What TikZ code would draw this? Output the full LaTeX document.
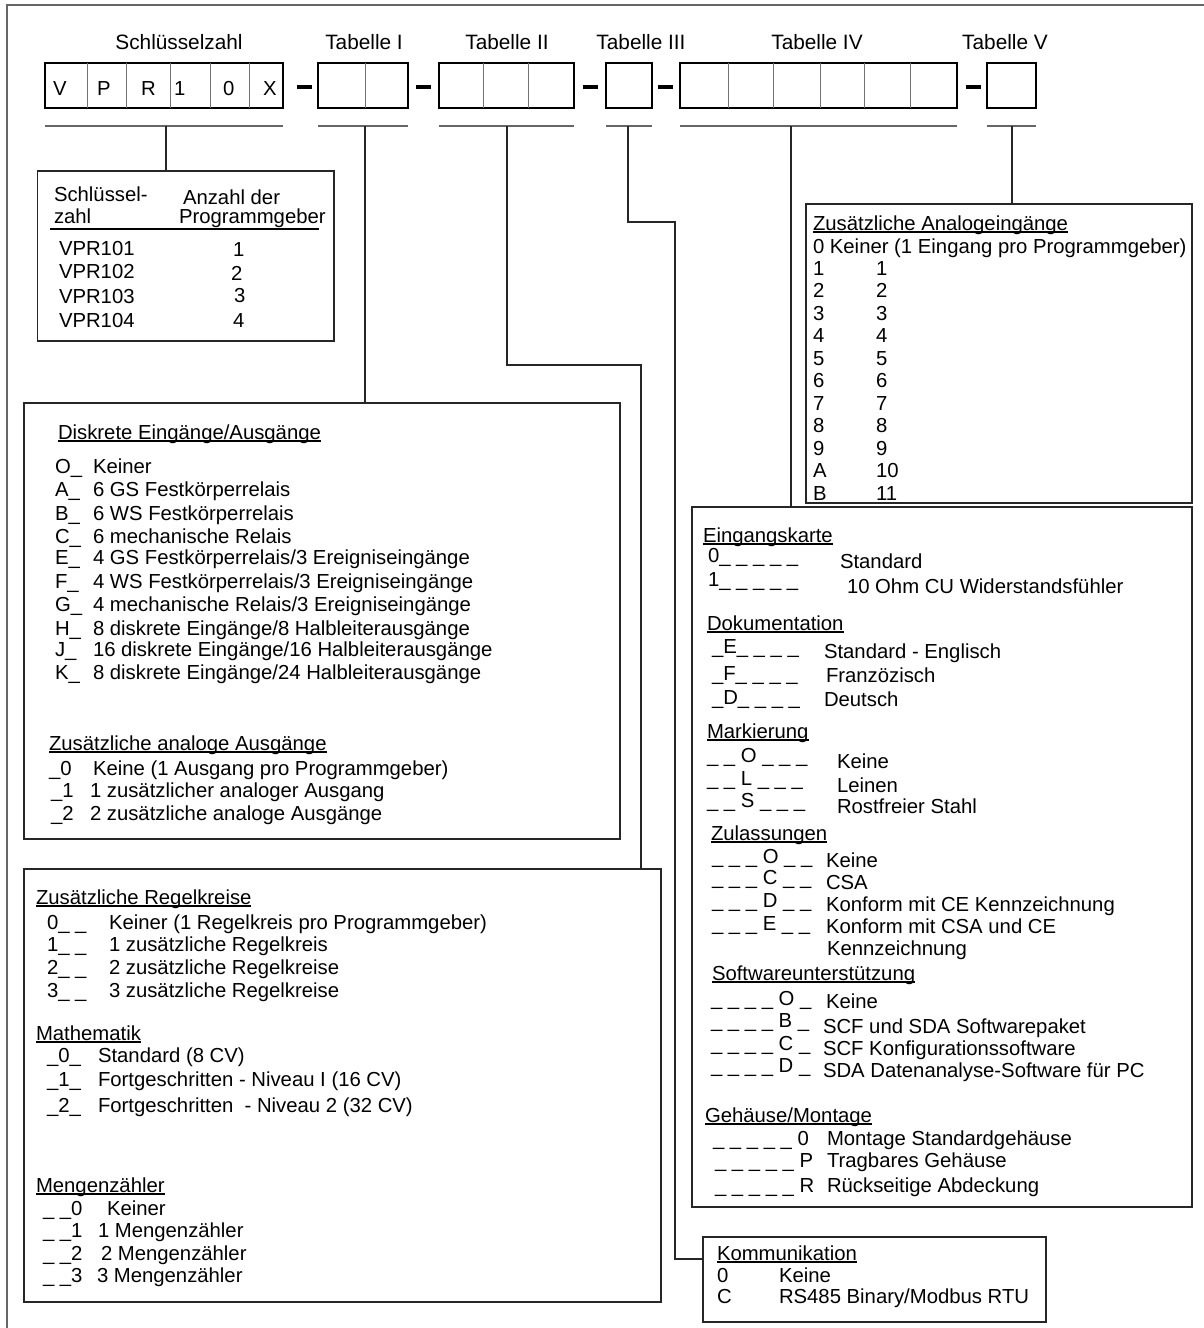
\documentclass[tikz,border=0pt]{standalone}
\usepackage{fontspec}
\setmainfont{Liberation Sans}
\newcommand\hul[1]{\setbox0\hbox{#1}\rlap{\rule[-2.6pt]{\wd0}{1.4pt}}\box0}
\begin{document}
\begin{tikzpicture}[x=1pt,y=-1pt]
\tikzset{
 frame/.style={draw=black!60, line width=1.5pt},
 panel/.style={draw=black!85, line width=1.5pt, inner sep=0pt, outer sep=0pt, anchor=north west},
 codebox/.style={draw=black, line width=1.7pt, inner sep=0pt, outer sep=0pt, anchor=north west, minimum height=45pt},
 divider/.style={draw=black!55, line width=1pt},
 uline/.style={draw=black!60, line width=1.3pt},
 conn/.style={draw=black!85, line width=1.2pt},
 dashbar/.style={fill=black, inner sep=0pt, outer sep=0pt, minimum width=15pt, minimum height=4pt},
 txt/.style={anchor=base west, inner sep=0pt, outer sep=0pt, font=\fontsize{20.3}{24}\selectfont},
 head/.style={anchor=base, inner sep=0pt, outer sep=0pt, font=\fontsize{20.8}{24}\selectfont},
}
\useasboundingbox (0,0) rectangle (1203,1328);
% outer frame
\draw[frame] (7,1332) -- (7,5) -- (1210,5);

% header labels
\node[head] (hK) at (179,49) {Schlüsselzahl};
\node[head] (hI) at (364,49) {Tabelle I};
\node[head] (hII) at (507,49) {Tabelle II};
\node[head] (hIII) at (641,49) {Tabelle III};
\node[head] (hIV) at (817,49) {Tabelle IV};
\node[head] (hV) at (1005,49) {Tabelle V};

% code boxes
\node[codebox, minimum width=238pt] (keyb) at (45,63) {};
\foreach \dx in {42,81,125,165,204} \draw[divider] ([xshift=\dx pt]keyb.north west) -- ([xshift=\dx pt]keyb.south west);
\node[codebox, minimum width=90pt] (tI) at (318,63) {};
\draw[divider] ([xshift=47pt]tI.north west) -- ([xshift=47pt]tI.south west);
\node[codebox, minimum width=135pt] (tII) at (439,63) {};
\foreach \dx in {44,89} \draw[divider] ([xshift=\dx pt]tII.north west) -- ([xshift=\dx pt]tII.south west);
\node[codebox, minimum width=46pt] (tIII) at (606,63) {};
\node[codebox, minimum width=277pt] (tIV) at (680,63) {};
\foreach \dx in {48,93,140,184,230} \draw[divider] ([xshift=\dx pt]tIV.north west) -- ([xshift=\dx pt]tIV.south west);
\node[codebox, minimum width=49pt] (tV) at (987,63) {};

% key letters
\node[txt] (kV) at (53,95) {V};
\node[txt] (kP) at (97,95) {P};
\node[txt] (kR) at (141,95) {R};
\node[txt] (k1) at (174,95) {1};
\node[txt] (k0) at (223,95) {0};
\node[txt] (kX) at (263,95) {X};

% dash bars
\node[dashbar] (d1) at (304.5,87) {};
\node[dashbar] (d2) at (423,87) {};
\node[dashbar] (d3) at (590.5,87) {};
\node[dashbar] (d4) at (665.5,87) {};
\node[dashbar] (d5) at (973.5,87) {};

% underlines below the code boxes
\foreach \b in {keyb,tI,tII,tIII,tIV,tV}
  \draw[uline] ([yshift=-18pt]\b.south west) -- ([yshift=-18pt]\b.south east);

% panels
\node[panel, minimum width=296.5pt, minimum height=170pt] (keytab) at (37.5,171) {};
\node[panel, minimum width=596pt, minimum height=436pt] (disk) at (24,403) {};
\node[panel, minimum width=637pt, minimum height=433pt] (regel) at (24,869) {};
\node[panel, minimum width=386pt, minimum height=299pt] (analog) at (806,204) {};
\node[panel, minimum width=500pt, minimum height=700pt] (eing) at (692,507) {};
\node[panel, minimum width=343pt, minimum height=85pt] (komm) at (703,1237) {};

% connectors
\coordinate (cK) at (166,126);
\coordinate (cI) at (365,126);
\coordinate (cII) at (507,126);
\coordinate (cIII) at (628,126);
\coordinate (cIV) at (791,126);
\coordinate (cV) at (1012,126);
\coordinate (kII) at (641,365);
\coordinate (kIII) at (675,222);
\coordinate (kIIIb) at (675,1259);
\draw[conn] (cK) -- (cK |- keytab.north);
\draw[conn] (cI) -- (cI |- disk.north);
\draw[conn] (cII) |- (kII) -- (kII |- regel.north);
\draw[conn] (cIII) |- (kIII) -- (kIIIb) -- (kIIIb -| komm.west);
\draw[conn] (cIV) -- (cIV |- eing.north);
\draw[conn] (cV) -- (cV |- analog.north);

% key table
\node[txt] (kt1) at (54,201.5) {Schlüssel-};
\node[txt] (kt2) at (54,223) {zahl};
\node[txt] (kt3) at (183,204) {Anzahl der};
\node[txt] (kt4) at (179,223) {Programmgeber};
\draw[line width=2.6pt] (50,229) -- (319,229);
\node[txt] (kv1) at (59,255) {VPR101};
\node[txt] (kv2) at (59,278) {VPR102};
\node[txt] (kv3) at (59,303) {VPR103};
\node[txt] (kv4) at (59,327) {VPR104};
\node[txt] (kn1) at (233,256) {1};
\node[txt] (kn2) at (231,280) {2};
\node[txt] (kn3) at (234,302) {3};
\node[txt] (kn4) at (233,327) {4};

% Diskrete
\node[txt] (dh) at (58,439) {\hul{Diskrete Eingänge/Ausgänge}};
\foreach \cd/\ds/\yy [count=\i] in {
 {O\_}/{Keiner}/473,
 {A\_}/{6 GS Festkörperrelais}/496,
 {B\_}/{6 WS Festkörperrelais}/520,
 {C\_}/{6 mechanische Relais}/543,
 {E\_}/{4 GS Festkörperrelais/3 Ereigniseingänge}/564,
 {F\_}/{4 WS Festkörperrelais/3 Ereigniseingänge}/588,
 {G\_}/{4 mechanische Relais/3 Ereigniseingänge}/611,
 {H\_}/{8 diskrete Eingänge/8 Halbleiterausgänge}/635,
 {J\_}/{16 diskrete Eingänge/16 Halbleiterausgänge}/656,
 {K\_}/{8 diskrete Eingänge/24 Halbleiterausgänge}/679}
{ \node[txt] (dc\i) at (55,\yy) {\cd}; \node[txt] (dd\i) at (93,\yy) {\ds}; }
\node[txt] (ah) at (49,750) {\hul{Zusätzliche analoge Ausgänge}};
\node[txt] (ac1) at (49,775) {\_0};
\node[txt] (ad1) at (93,775) {Keine (1 Ausgang pro Programmgeber)};
\node[txt] (ac2) at (51,797) {\_1};
\node[txt] (ad2) at (90,797) {1 zusätzlicher analoger Ausgang};
\node[txt] (ac3) at (51,820) {\_2};
\node[txt] (ad3) at (90,820) {2 zusätzliche analoge Ausgänge};

% Regelkreise
\node[txt] (rh) at (36,904) {\hul{Zusätzliche Regelkreise}};
\foreach \cd/\ds/\yy [count=\i] in {
 {0\_ \_}/{Keiner (1 Regelkreis pro Programmgeber)}/929,
 {1\_ \_}/{1 zusätzliche Regelkreis}/951,
 {2\_ \_}/{2 zusätzliche Regelkreise}/974,
 {3\_ \_}/{3 zusätzliche Regelkreise}/997}
{ \node[txt] (rc\i) at (47,\yy) {\cd}; \node[txt] (rd\i) at (109,\yy) {\ds}; }
\node[txt] (mh) at (36,1040) {\hul{Mathematik}};
\foreach \cd/\ds/\yy [count=\i] in {
 {\_0\_}/{Standard (8 CV)}/1062,
 {\_1\_}/{Fortgeschritten - Niveau I (16 CV)}/1086,
 {\_2\_}/{Fortgeschritten \ - Niveau 2 (32 CV)}/1112}
{ \node[txt] (mc\i) at (47,\yy) {\cd}; \node[txt] (md\i) at (98,\yy) {\ds}; }
\node[txt] (zh) at (36,1192) {\hul{Mengenzähler}};
\node[txt] (zc1) at (43,1215) {\_ \_0};
\node[txt] (zd1) at (107,1215) {Keiner};
\node[txt] (zc2) at (43,1237) {\_ \_1};
\node[txt] (zd2) at (98,1237) {1 Mengenzähler};
\node[txt] (zc3) at (43,1260) {\_ \_2};
\node[txt] (zd3) at (101,1260) {2 Mengenzähler};
\node[txt] (zc4) at (43,1282) {\_ \_3};
\node[txt] (zd4) at (97,1282) {3 Mengenzähler};

% Analogeingaenge
\node[txt] (vh) at (813,230) {\hul{Zusätzliche Analogeingänge}};
\node[txt] (v0) at (813,253) {0 Keiner (1 Eingang pro Programmgeber)};
\foreach \a/\b [count=\i] in {1/1,2/2,3/3,4/4,5/5,6/6,7/7,8/8,9/9,A/10,B/11}
{ \node[txt] (va\i) at (813,{275+22.5*(\i-1)}) {\a}; \node[txt] (vb\i) at (876,{275+22.5*(\i-1)}) {\b}; }

% Eingangskarte etc.
\node[txt] (e1h) at (703,542) {\hul{Eingangskarte}};
\node[txt] (e1c1) at (708,562) {0\_ \_ \_ \_ \_};
\node[txt] (e1d1) at (840,568) {Standard};
\node[txt] (e1c2) at (708,586) {1\_ \_ \_ \_ \_};
\node[txt] (e1d2) at (847,593) {10 Ohm CU Widerstandsfühler};

\node[txt] (e2h) at (707,630) {\hul{Dokumentation}};
\node[txt] (e2c1) at (712,653) {\_E\_ \_ \_ \_};
\node[txt] (e2d1) at (824,658) {Standard - Englisch};
\node[txt] (e2c2) at (712,680) {\_F\_ \_ \_ \_};
\node[txt] (e2d2) at (826,682) {Franzözisch};
\node[txt] (e2c3) at (712,704) {\_D\_ \_ \_ \_};
\node[txt] (e2d3) at (824,706) {Deutsch};

\node[txt] (e3h) at (707,738) {\hul{Markierung}};
\node[txt] (e3c1) at (707,762) {\_ \_ O \_ \_ \_};
\node[txt] (e3d1) at (837,768) {Keine};
\node[txt] (e3c2) at (707,785) {\_ \_ L \_ \_ \_};
\node[txt] (e3d2) at (837,792) {Leinen};
\node[txt] (e3c3) at (707,807) {\_ \_ S \_ \_ \_};
\node[txt] (e3d3) at (837,813) {Rostfreier Stahl};

\node[txt] (e4h) at (711,840) {\hul{Zulassungen}};
\node[txt] (e4c1) at (712,863) {\_ \_ \_ O \_ \_};
\node[txt] (e4d1) at (826,867) {Keine};
\node[txt] (e4c2) at (712,884) {\_ \_ \_ C \_ \_};
\node[txt] (e4d2) at (826,889) {CSA};
\node[txt] (e4c3) at (712,907) {\_ \_ \_ D \_ \_};
\node[txt] (e4d3) at (826,911) {Konform mit CE Kennzeichnung};
\node[txt] (e4c4) at (712,930) {\_ \_ \_ E \_ \_};
\node[txt] (e4d4) at (826,933) {Konform mit CSA und CE};
\node[txt] (e4d5) at (827,955) {Kennzeichnung};

\node[txt] (e5h) at (712,980) {\hul{Softwareunterstützung}};
\node[txt] (e5c1) at (711,1005) {\_ \_ \_ \_ O \_};
\node[txt] (e5d1) at (826,1008) {Keine};
\node[txt] (e5c2) at (711,1027) {\_ \_ \_ \_ B \_};
\node[txt] (e5d2) at (823,1033) {SCF und SDA Softwarepaket};
\node[txt] (e5c3) at (711,1050) {\_ \_ \_ \_ C \_};
\node[txt] (e5d3) at (823,1055) {SCF Konfigurationssoftware};
\node[txt] (e5c4) at (711,1072) {\_ \_ \_ \_ D \_};
\node[txt] (e5d4) at (823,1077) {SDA Datenanalyse-Software für PC};

\node[txt] (e6h) at (705,1122) {\hul{Gehäuse/Montage}};
\node[txt] (e6c1) at (713,1145) {\_ \_ \_ \_ \_ 0};
\node[txt] (e6d1) at (827,1145) {Montage Standardgehäuse};
\node[txt] (e6c2) at (715,1167) {\_ \_ \_ \_ \_ P};
\node[txt] (e6d2) at (827,1167) {Tragbares Gehäuse};
\node[txt] (e6c3) at (715,1192) {\_ \_ \_ \_ \_ R};
\node[txt] (e6d3) at (827,1192) {Rückseitige Abdeckung};

% Kommunikation
\node[txt] (oh) at (717,1260) {\hul{Kommunikation}};
\node[txt] (oc1) at (717,1282) {0};
\node[txt] (od1) at (779,1282) {Keine};
\node[txt] (oc2) at (717,1303) {C};
\node[txt] (od2) at (779,1303) {RS485 Binary/Modbus RTU};
\end{tikzpicture}
\end{document}
